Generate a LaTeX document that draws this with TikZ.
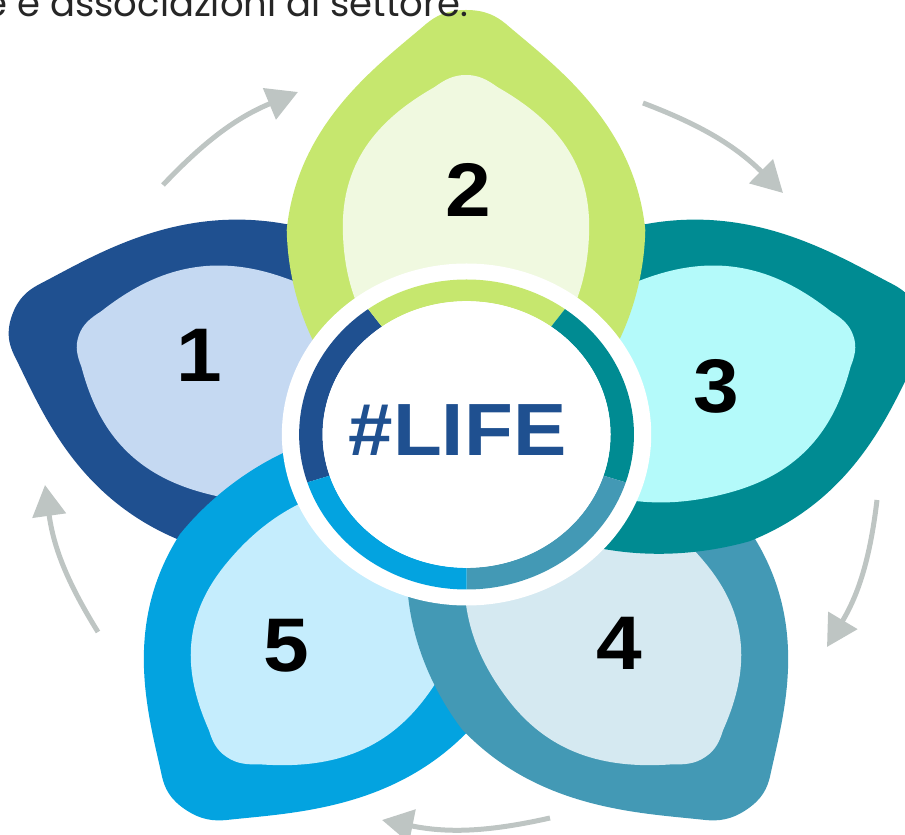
\documentclass[tikz,border=0pt]{standalone}
\usepackage{fontspec}
\setmainfont{Liberation Sans}
\newfontfamily\introfont{Poppins}
\usetikzlibrary{arrows.meta}
\definecolor{lifeA}{HTML}{1F5090}
\definecolor{lifeAi}{HTML}{C5D9F2}
\definecolor{lifeB}{HTML}{C6E76E}
\definecolor{lifeBi}{HTML}{F0F9E0}
\definecolor{lifeC}{HTML}{008B92}
\definecolor{lifeCi}{HTML}{B4FAFA}
\definecolor{lifeD}{HTML}{4399B5}
\definecolor{lifeDi}{HTML}{D5E9F1}
\definecolor{lifeE}{HTML}{03A3E0}
\definecolor{lifeEi}{HTML}{C5EDFD}
\definecolor{flowgray}{HTML}{BEC5C3}
\tikzset{
	num/.style      = {font=\bfseries\fontsize{76}{76}\selectfont, inner sep=0pt,
		transform shape, xscale=1.08},
	lifetxt/.style  = {font=\bfseries\fontsize{74}{74}\selectfont, text=lifeA, inner sep=0pt,
		transform shape, xscale=1.08},
	introtxt/.style = {font=\introfont\fontsize{37}{37}\selectfont, text=black!85, inner sep=0pt},
	flow/.style     = {draw=flowgray, line width=5pt},
}

\begin{document}
\begin{tikzpicture}[ x=1pt, y=1pt,                    %<--one unit is one pixel of the reference
                     >={Triangle[length=31pt,width=33pt]} ] %<--sets the arrowtype
    \clip (0,0) rectangle (905,835);

    %Drawing the Petals (1,5,4,3,2, each one over the last):
    \begin{scope}[shift={(466,383)}, xscale=1.08]
      \foreach \ang/\outc/\inc in {162/lifeA/lifeAi, -126/lifeE/lifeEi, -54/lifeD/lifeDi,
                                   18/lifeC/lifeCi, 90/lifeB/lifeBi}{
        \begin{scope}[rotate=\ang-90]
          \fill[\outc] (0,442) .. controls (-18,442) and (-28,436) .. (-37,428)
            .. controls (-80,388) and (-156,330) .. (-166,222)
            .. controls (-165,170) and (-150,120) .. (-125,80)
            .. controls (-90,20) and (90,20) .. (125,80)
            .. controls (150,120) and (165,170) .. (166,222)
            .. controls (156,330) and (80,388) .. (37,428)
            .. controls (28,436) and (18,442) .. (0,442) -- cycle;
          \fill[\inc] (0,377) .. controls (-12,377) and (-20,372) .. (-29,365)
            .. controls (-76,336) and (-116,295) .. (-114,220)
            .. controls (-113,180) and (-104,150) .. (-90,124)
            .. controls (-60,70) and (60,70) .. (90,124)
            .. controls (104,150) and (113,180) .. (114,220)
            .. controls (116,295) and (76,336) .. (29,365)
            .. controls (20,372) and (12,377) .. (0,377) -- cycle;
        \end{scope}
      }
      %Drawing the Ring:
      \begin{scope}[shift={(0.5,17.5)}]
        \fill[white] (0,0) circle[radius=171];
        \foreach \a/\b/\c in {126/198/lifeA, 54/126/lifeB, -18/54/lifeC, -90/-18/lifeD, -162/-90/lifeE}
          \fill[\c] (\a:155) arc[start angle=\a, end angle=\b, radius=155]
            -- (\b:133.3) arc[start angle=\b, end angle=\a, radius=133.3] -- cycle;
        \fill[white] (0,0) circle[radius=133.3];
      \end{scope}
    \end{scope}

    %Drawing the Texts:
    \node[introtxt, anchor=base east] (intro) at (468,818) {e e associazioni di settore.};
    \node[lifetxt] (life) at (457.5,404.5) {\#LIFE};
    \node[num] (n1) at (199.5,479.5) {1};
    \node[num] (n2) at (468.5,645.5) {2};
    \node[num] (n3) at (716.5,449) {3};
    \node[num] (n4) at (619.5,192) {4};
    \node[num] (n5) at (286.5,189.5) {5};

    %Drawing the Cycle Arrows:
    \coordinate (t1) at (163,650);  \coordinate (h1) at (298,743);
    \coordinate (t2) at (643,732);  \coordinate (h2) at (783,642);
    \coordinate (t3) at (877,335);  \coordinate (h3) at (827,188);
    \coordinate (t4) at (550,17);   \coordinate (h4) at (382,15);
    \coordinate (t5) at (98,203);   \coordinate (h5) at (45,350);
    \draw[flow,->] (t1) to[bend left=12] (h1);
    \draw[flow,->] (t2) to[bend left=12] (h2);
    \draw[flow,->] (t3) to[bend left=12] (h3);
    \draw[flow,->] (t4) to[bend left=12] (h4);
    \draw[flow,->] (t5) to[bend left=12] (h5);
\end{tikzpicture}
\end{document}
